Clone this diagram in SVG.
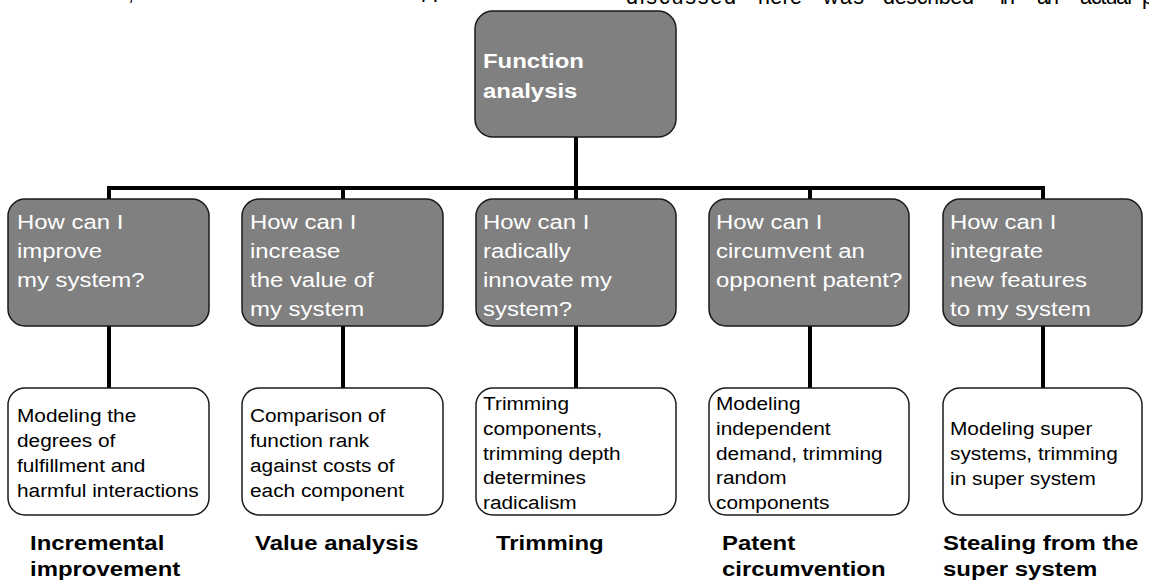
<svg xmlns="http://www.w3.org/2000/svg" width="1149" height="581" viewBox="0 0 1149 581">
<style>
.gbox{fill:#808080;stroke:#1a1a1a;stroke-width:1.5}
.wbox{fill:#ffffff;stroke:#1a1a1a;stroke-width:1.5}
.mt{font-family:"Liberation Sans",Arial,sans-serif;font-size:21px;fill:#ffffff}
.tt{font-family:"Liberation Sans",Arial,sans-serif;font-size:21px;font-weight:bold;fill:#ffffff}
.lt{font-family:"Liberation Sans",Arial,sans-serif;font-size:18.6px;fill:#000000}
.bl{font-family:"Liberation Sans",Arial,sans-serif;font-size:21px;font-weight:bold;fill:#000000}
.pg{font-family:"Liberation Sans",Arial,sans-serif;font-size:21.5px;fill:#000000}
.conn{stroke:#000;stroke-width:4;fill:none}
</style>
<rect width="1149" height="581" fill="#ffffff"/>
<g id="page-text">
<text class="pg" x="128" y="-0.5">,</text>
<text class="pg" x="421" y="-3">pp</text>
<text class="pg" y="4"><tspan x="626" textLength="110">discussed</tspan><tspan x="758" textLength="44">here</tspan><tspan x="823" textLength="41">was</tspan><tspan x="883" textLength="91">described</tspan><tspan x="1000" textLength="15">in</tspan><tspan x="1037" textLength="22">an</tspan><tspan x="1080" textLength="52">actual</tspan><tspan x="1142">p</tspan></text>
</g>
<g id="connectors">
<line class="conn" x1="576" y1="137" x2="576" y2="199"/>
<line class="conn" x1="107" y1="188" x2="1045" y2="188"/>
<line class="conn" x1="109" y1="186" x2="109" y2="199"/>
<line class="conn" x1="343" y1="186" x2="343" y2="199"/>
<line class="conn" x1="810" y1="186" x2="810" y2="199"/>
<line class="conn" x1="1043" y1="186" x2="1043" y2="199"/>
<line class="conn" x1="109" y1="326" x2="109" y2="388"/>
<line class="conn" x1="343" y1="326" x2="343" y2="388"/>
<line class="conn" x1="576" y1="326" x2="576" y2="388"/>
<line class="conn" x1="810" y1="326" x2="810" y2="388"/>
<line class="conn" x1="1043" y1="326" x2="1043" y2="388"/>
</g>
<g id="function-analysis">
<rect class="gbox" x="475" y="11" width="201" height="126" rx="18"/>
<text class="tt" transform="translate(483,68) scale(1.14,1)"><tspan x="0">Function</tspan><tspan x="0" dy="30">analysis</tspan></text>
</g>
<g id="q-improve">
<rect class="gbox" x="8" y="199" width="201" height="127" rx="17"/>
<text class="mt" transform="translate(17,228.5) scale(1.14,1)"><tspan x="0">How can I</tspan><tspan x="0" dy="29.3">improve</tspan><tspan x="0" dy="29.3">my system?</tspan></text>
</g>
<g id="q-value">
<rect class="gbox" x="242" y="199" width="201" height="127" rx="17"/>
<text class="mt" transform="translate(250,228.5) scale(1.14,1)"><tspan x="0">How can I</tspan><tspan x="0" dy="29.3">increase</tspan><tspan x="0" dy="29.3">the value of</tspan><tspan x="0" dy="29.3">my system</tspan></text>
</g>
<g id="q-radical">
<rect class="gbox" x="476" y="199" width="200" height="127" rx="17"/>
<text class="mt" transform="translate(483,228.5) scale(1.14,1)"><tspan x="0">How can I</tspan><tspan x="0" dy="29.3">radically</tspan><tspan x="0" dy="29.3">innovate my</tspan><tspan x="0" dy="29.3">system?</tspan></text>
</g>
<g id="q-patent">
<rect class="gbox" x="709" y="199" width="200" height="127" rx="17"/>
<text class="mt" transform="translate(716,228.5) scale(1.14,1)"><tspan x="0">How can I</tspan><tspan x="0" dy="29.3">circumvent an</tspan><tspan x="0" dy="29.3">opponent patent?</tspan></text>
</g>
<g id="q-integrate">
<rect class="gbox" x="943" y="199" width="199" height="127" rx="17"/>
<text class="mt" transform="translate(950,228.5) scale(1.14,1)"><tspan x="0">How can I</tspan><tspan x="0" dy="29.3">integrate</tspan><tspan x="0" dy="29.3">new features</tspan><tspan x="0" dy="29.3">to my system</tspan></text>
</g>
<g id="m-incremental">
<rect class="wbox" x="8" y="388" width="201" height="127" rx="17"/>
<text class="lt" transform="translate(17,422) scale(1.12,1)"><tspan x="0">Modeling the</tspan><tspan x="0" dy="25">degrees of</tspan><tspan x="0" dy="25">fulfillment and</tspan><tspan x="0" dy="25">harmful interactions</tspan></text>
</g>
<g id="m-value">
<rect class="wbox" x="242" y="388" width="201" height="127" rx="17"/>
<text class="lt" transform="translate(250,422) scale(1.12,1)"><tspan x="0">Comparison of</tspan><tspan x="0" dy="25">function rank</tspan><tspan x="0" dy="25">against costs of</tspan><tspan x="0" dy="25">each component</tspan></text>
</g>
<g id="m-trimming">
<rect class="wbox" x="476" y="388" width="200" height="127" rx="17"/>
<text class="lt" transform="translate(483,410) scale(1.12,1)"><tspan x="0">Trimming</tspan><tspan x="0" dy="24.8">components,</tspan><tspan x="0" dy="24.8">trimming depth</tspan><tspan x="0" dy="24.8">determines</tspan><tspan x="0" dy="24.8">radicalism</tspan></text>
</g>
<g id="m-patent">
<rect class="wbox" x="709" y="388" width="200" height="127" rx="17"/>
<text class="lt" transform="translate(716,410) scale(1.12,1)"><tspan x="0">Modeling</tspan><tspan x="0" dy="24.8">independent</tspan><tspan x="0" dy="24.8">demand, trimming</tspan><tspan x="0" dy="24.8">random</tspan><tspan x="0" dy="24.8">components</tspan></text>
</g>
<g id="m-super">
<rect class="wbox" x="943" y="388" width="199" height="127" rx="17"/>
<text class="lt" transform="translate(950,435) scale(1.12,1)"><tspan x="0">Modeling super</tspan><tspan x="0" dy="25">systems, trimming</tspan><tspan x="0" dy="25">in super system</tspan></text>
</g>
<g id="labels">
<text class="bl" transform="translate(30,550) scale(1.14,1)"><tspan x="0">Incremental</tspan><tspan x="0" dy="26">improvement</tspan></text>
<text class="bl" transform="translate(255,550) scale(1.14,1)">Value analysis</text>
<text class="bl" transform="translate(496,550) scale(1.14,1)">Trimming</text>
<text class="bl" transform="translate(722,550) scale(1.14,1)"><tspan x="0">Patent</tspan><tspan x="0" dy="26">circumvention</tspan></text>
<text class="bl" transform="translate(943,550) scale(1.14,1)"><tspan x="0">Stealing from the</tspan><tspan x="0" dy="26">super system</tspan></text>
</g>
</svg>
